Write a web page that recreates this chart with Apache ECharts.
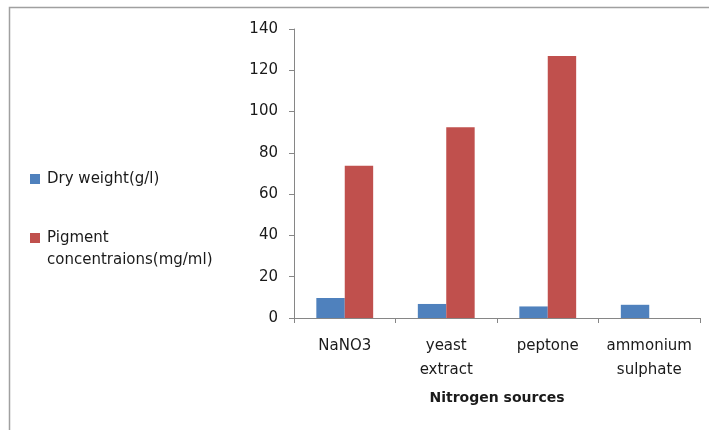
<!DOCTYPE html>
<html><head><meta charset="utf-8">
<script src="https://cdn.jsdelivr.net/npm/echarts@6/dist/echarts.min.js"></script>
<style>html,body{margin:0;padding:0;background:#fff}#c{width:709px;height:430px}</style>
</head><body><div id="c"></div>
<script>
var categories = ['NaNO3', 'yeast\nextract', 'peptone', 'ammonium\nsulphate'];
var seriesNames = ['Dry weight(g/l)', 'Pigment concentraions(mg/ml)'];
var dryWeight = [9.7, 6.8, 5.6, 6.4];
var pigment = [73.8, 92.4, 126.9, 0];
var yTicks = {min: 0, max: 140, interval: 20};
var xTitle = 'Nitrogen sources';

var FONT = 'DejaVu Sans';
var FS = 15;
var TXT = '#1a1a1a';
var chart = echarts.init(document.getElementById('c'), null, {renderer: 'canvas'});
chart.setOption({
  backgroundColor: '#fff',
  animation: false,
  textStyle: {fontFamily: FONT},
  graphic: [
    {type: 'polyline', shape: {points: [[9.5, 430], [9.5, 7.5], [709, 7.5]]},
     style: {stroke: '#a0a0a0', lineWidth: 1.5, fill: null}, silent: true}
  ],
  legend: [
    {orient: 'vertical', left: 30, top: 168, padding: 0, itemWidth: 10, itemHeight: 10,
     icon: 'rect', data: [seriesNames[0]],
     textStyle: {fontFamily: FONT, fontSize: FS, color: TXT, lineHeight: 22, padding: [0, 0, 0, 2]}},
    {orient: 'vertical', left: 30, top: 205, padding: 0, itemWidth: 10, itemHeight: 10,
     icon: 'rect', data: [seriesNames[1]],
     formatter: function (n) { return ' \n' + n.replace(' ', '\n'); },
     textStyle: {fontFamily: FONT, fontSize: FS, color: TXT, lineHeight: 22, padding: [0, 0, 0, 2]}}
  ],
  grid: {left: 294, right: 9, top: 29, bottom: 112, containLabel: false},
  xAxis: {
    type: 'category', data: categories,
    name: xTitle, nameLocation: 'middle', nameGap: 73,
    nameTextStyle: {fontFamily: FONT, fontSize: 14, fontWeight: 'bold', color: TXT},
    axisLine: {lineStyle: {color: '#868686', width: 1}},
    axisTick: {show: true, length: 5, alignWithLabel: false, lineStyle: {color: '#868686'}},
    axisLabel: {fontFamily: FONT, fontSize: FS, color: TXT, lineHeight: 24, margin: 16, interval: 0}
  },
  yAxis: {
    type: 'value', min: yTicks.min, max: yTicks.max, interval: yTicks.interval,
    axisLine: {show: true, lineStyle: {color: '#868686', width: 1}},
    axisTick: {show: true, length: 5, lineStyle: {color: '#868686'}},
    splitLine: {show: false},
    axisLabel: {fontFamily: FONT, fontSize: FS, color: TXT, margin: 16}
  },
  series: [
    {name: seriesNames[0], type: 'bar', data: dryWeight, barGap: '0%', barCategoryGap: '44%',
     itemStyle: {color: '#4F81BD'}},
    {name: seriesNames[1], type: 'bar', data: pigment, barGap: '0%', barCategoryGap: '44%',
     itemStyle: {color: '#C0504D'}}
  ]
});
</script></body></html>
